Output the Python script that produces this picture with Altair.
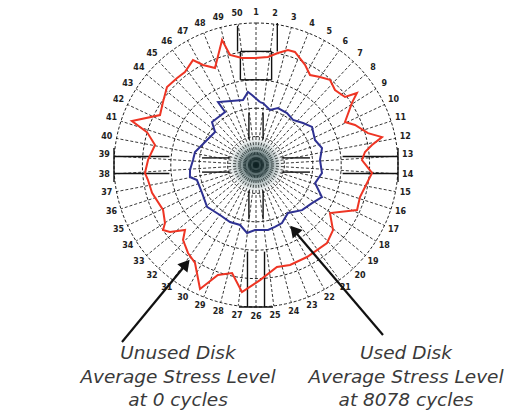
import altair as alt
import pandas as pd

# ---- measured stress around the disk (angle clockwise from gauge 1, level in % of full scale)
SPOKES = 50
spoke_labels = [str(i) for i in range(1, SPOKES + 1)]
ring_levels = [20, 40, 60, 80, 100]

red_angle = [359.5, 6.3, 11.1, 15.5, 19.0, 26.1, 31.0, 36.0, 41.0, 46.5, 52.6, 54.5, 57.1,
             64.2, 68.0, 74.1, 77.5, 80.2, 83.2, 87.3, 93.9, 99.2, 107.1, 114.0, 123.0,
             130.2, 137.7, 151.0, 161.2, 168.4, 178.0, 186.3, 192.5, 199.1, 204.3, 211.9,
             217.7, 224.2, 227.5, 232.1, 235.0, 237.5, 244.2, 255.0, 262.1, 265.9, 272.7,
             281.2, 286.8, 289.5, 297.5, 304.1, 311.2, 317.8, 322.6, 329.0, 332.1, 337.1,
             344.8, 346.7, 352.5]
red_level = [75.4, 76.5, 80.4, 84.1, 84.2, 78.5, 73.9, 76.6, 79.4, 76.7, 78.9, 87.3, 80.5,
             69.6, 75.2, 82.0, 90.9, 82.9, 77.3, 74.7, 81.9, 79.2, 76.6, 77.9, 62.1,
             71.0, 74.3, 74.1, 74.4, 73.3, 81.1, 90.0, 77.9, 82.0, 95.8, 81.3,
             78.3, 73.7, 67.8, 76.8, 79.9, 76.0, 72.7, 75.8, 76.8, 78.4, 76.1,
             72.5, 80.2, 92.7, 76.2, 79.1, 83.3, 82.7, 82.4, 86.2, 79.7, 74.2,
             91.2, 79.6, 76.0]

blue_angle = [3.6, 6.4, 14.3, 21.1, 30.8, 39.4, 48.2, 55.8, 67.0, 75.6, 85.5, 96.9, 107.0,
              115.9, 124.2, 134.4, 146.3, 155.9, 163.0, 169.5, 180.9, 187.5, 194.9, 204.5,
              215.8, 229.4, 242.6, 255.7, 259.7, 265.7, 274.5, 282.0, 294.3, 308.8, 314.3,
              329.7, 328.9, 348.7, 353.7, 356.7]
blue_level = [44.4, 43.9, 40.0, 43.0, 42.6, 41.1, 44.4, 47.7, 45.1, 48.0, 45.2, 46.8, 43.5,
              51.6, 47.7, 45.4, 40.6, 44.8, 45.6, 46.5, 45.8, 48.3, 43.7, 44.1,
              43.4, 45.4, 42.8, 42.9, 47.3, 46.6, 44.5, 43.9, 39.4, 37.0, 43.3,
              43.2, 51.8, 46.7, 51.7, 49.4]

# ---- layout
W, H = 508, 410
CX, CY = 256, 165          # pixel position of the disk centre
PX = 1.42                  # pixels per level unit
LABEL_R = 107

xs = alt.Scale(domain=[-CX / PX, (W - CX) / PX], nice=False, zero=False)
ys = alt.Scale(domain=[-(H - CY) / PX, CY / PX], nice=False, zero=False)

POLAR_X = "datum.r * sin(datum.a * PI / 180)"
POLAR_Y = "datum.r * cos(datum.a * PI / 180)"


def closed_trace(angles, levels):
    rows = [{"a": a, "r": r, "i": i} for i, (a, r) in enumerate(zip(angles, levels))]
    rows.append({"a": angles[0], "r": levels[0], "i": len(rows)})
    return pd.DataFrame(rows)


def xy(chart):
    return chart.transform_calculate(px=POLAR_X, py=POLAR_Y)


X = alt.X("px:Q", scale=xs, axis=None)
Y = alt.Y("py:Q", scale=ys, axis=None)

# dashed rings
ring_df = pd.DataFrame([{"ring": lv, "r": lv, "a": a} for lv in ring_levels
                        for a in range(0, 361, 2)])
rings = xy(alt.Chart(ring_df)).mark_line(
    color="#222222", strokeWidth=1, strokeDash=[3, 2]
).encode(x=X, y=Y, detail="ring:N", order="a:Q")

# dashed spokes
spoke_df = pd.DataFrame({"a": [k * 360 / SPOKES for k in range(SPOKES)],
                         "label": spoke_labels})
spokes = alt.Chart(spoke_df).transform_calculate(
    x0="0", y0="0",
    x1=f"{ring_levels[-1]} * sin(datum.a * PI / 180)",
    y1=f"{ring_levels[-1]} * cos(datum.a * PI / 180)",
).mark_rule(color="#222222", strokeWidth=0.9, strokeDash=[3, 2]).encode(
    x=alt.X("x0:Q", scale=xs, axis=None), y=alt.Y("y0:Q", scale=ys, axis=None),
    x2="x1:Q", y2="y1:Q")

# dark hub where the spokes converge
hub = alt.Chart(pd.DataFrame([{"px": 0, "py": 0}])).mark_point(
    shape="circle", filled=True, size=3000, opacity=1, strokeWidth=0,
    fill=alt.RadialGradient(gradient="radial", stops=[
        alt.GradientStop(color="rgba(10,30,32,0.95)", offset=0),
        alt.GradientStop(color="rgba(30,60,62,0.6)", offset=0.45),
        alt.GradientStop(color="rgba(80,110,110,0)", offset=1),
    ])).encode(x=X, y=Y)

labels = alt.Chart(spoke_df).transform_calculate(
    px=f"{LABEL_R} * sin(datum.a * PI / 180)",
    py=f"{LABEL_R} * cos(datum.a * PI / 180)",
).mark_text(font="DejaVu Sans", fontSize=8, fontWeight="bold", color="#222222",
            baseline="middle", align="center").encode(x=X, y=Y, text="label:N")

# solid cross frame: pairs of slot lines and end bars on the four axes
frame_rows = []
seg = 0
for d in [0, 90, 180, 270]:
    if d == 0:
        parts = [[(60, -11), (60, 11)], [(80, -11), (80, 11)],
                 [(60, -11), (80, -11)], [(60, 11), (80, 11)],
                 [(80, -13), (98, -13)], [(80, 15), (100, 15)],
                 [(18, -5), (37, -5)], [(18, 5), (37, 5)]]
    else:
        parts = [[(61, -6), (100, -6)], [(61, 6), (100, 6)],
                 [(100, -12), (100, 12)],
                 [(18, -5), (38, -5)], [(18, 5), (38, 5)]]
    for p in parts:
        for j, (r, off) in enumerate(p):
            frame_rows.append({"seg": seg, "j": j, "d": d, "r": r, "off": off})
        seg += 1
frame_df = pd.DataFrame(frame_rows)
frame = alt.Chart(frame_df).transform_calculate(
    px="datum.r * sin(datum.d * PI / 180) + datum.off * cos(datum.d * PI / 180)",
    py="datum.r * cos(datum.d * PI / 180) - datum.off * sin(datum.d * PI / 180)",
).mark_line(color="#111111", strokeWidth=1.4).encode(
    x=X, y=Y, detail="seg:N", order="j:Q")

red = xy(alt.Chart(closed_trace(red_angle, red_level))).mark_line(
    color="#ee3524", strokeWidth=2).encode(x=X, y=Y, order="i:Q")
blue = xy(alt.Chart(closed_trace(blue_angle, blue_level))).mark_line(
    color="#2e3192", strokeWidth=2).encode(x=X, y=Y, order="i:Q")

# annotation arrows (pixel layout)
arrows = [
    {"x": 122, "y": 342, "x2": 183, "y2": 268, "hx": 186, "hy": 264, "ang": 39.5},
    {"x": 383, "y": 335, "x2": 297, "y2": 234, "hx": 294, "hy": 230, "ang": 319.6},
]
arrow_layers = []
for a in arrows:
    arrow_layers.append(alt.Chart(pd.DataFrame([a])).mark_rule(
        color="#111111", strokeWidth=2.2).encode(
        x=alt.value(a["x"]), y=alt.value(a["y"]),
        x2=alt.value(a["x2"]), y2=alt.value(a["y2"])))
    arrow_layers.append(alt.Chart(pd.DataFrame([a])).mark_point(
        shape="triangle-up", filled=True, color="#111111", opacity=1,
        size=170, angle=a["ang"]).encode(
        x=alt.value(a["hx"]), y=alt.value(a["hy"])))

captions = [
    ("Unused Disk", 178, 353), ("Average Stress Level", 178, 377), ("at 0 cycles", 178, 400),
    ("Used Disk", 406, 353), ("Average Stress Level", 406, 377), ("at 8078 cycles", 406, 400),
]
text_layers = [
    alt.Chart(pd.DataFrame([{"t": t}])).mark_text(
        font="DejaVu Sans", fontStyle="italic", fontSize=18.5, color="#3a3a3a",
        align="center", baseline="middle").encode(
        x=alt.value(x), y=alt.value(y), text="t:N")
    for t, x, y in captions
]

chart = alt.layer(rings, spokes, hub, frame, labels, red, blue,
                  *arrow_layers, *text_layers).properties(
    width=W, height=H, padding=0, autosize=alt.AutoSizeParams(type="none"),
    background="white",
).configure_view(stroke=None)

chart.save("out.html", embed_options={"renderer": "svg", "actions": False})
